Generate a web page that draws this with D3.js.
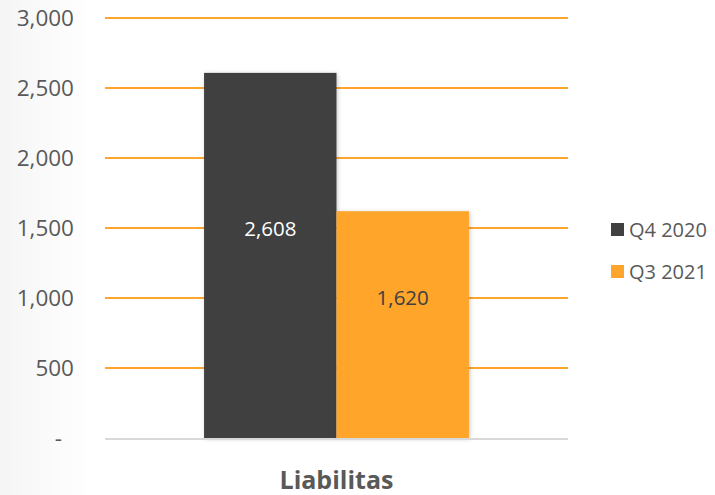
<!DOCTYPE html>
<html>
<head>
<meta charset="utf-8">
<script src="https://cdn.jsdelivr.net/npm/d3@7"></script>
<style>
  html, body { margin: 0; padding: 0; background: #ffffff; }
  svg { display: block; }
  text { font-family: "Open Sans", "Noto Sans", sans-serif; }
</style>
</head>
<body>
<svg id="chart" width="715" height="495"></svg>
<script>
// Chart data
const categories = ["Liabilitas"];
const seriesNames = ["Q4 2020", "Q3 2021"];
const seriesValues = [2608, 1620];
const seriesColors = ["#404040", "#FFA52C"];
const yTicks = [0, 500, 1000, 1500, 2000, 2500, 3000];

const svg = d3.select("#chart");
const W = 715, H = 495;

const defs = svg.append("defs");
const lg = defs.append("linearGradient").attr("id", "edge").attr("x1", 0).attr("x2", 1).attr("y1", 0).attr("y2", 0);
lg.append("stop").attr("offset", "0%").attr("stop-color", "#f5f5f5");
lg.append("stop").attr("offset", "60%").attr("stop-color", "#fbfbfb");
lg.append("stop").attr("offset", "100%").attr("stop-color", "#ffffff");
const f = defs.append("filter").attr("id", "shadow").attr("x", "-20%").attr("y", "-20%").attr("width", "140%").attr("height", "140%");
f.append("feDropShadow").attr("dx", 1).attr("dy", 1).attr("stdDeviation", 2).attr("flood-color", "#000").attr("flood-opacity", 0.22);

// Faint shading along the left edge
svg.append("rect").attr("x", 0).attr("y", 0).attr("width", 90).attr("height", H).attr("fill", "url(#edge)");

const plot = { left: 105, right: 568, top: 18, bottom: 438 };

const y = d3.scaleLinear().domain([0, 3000]).range([plot.bottom, plot.top]);
const x0 = d3.scaleBand().domain(categories).range([plot.left, plot.right]).paddingInner(0).paddingOuter(0.374);
const x1 = d3.scaleBand().domain(seriesNames).range([0, x0.bandwidth()]).padding(0);

// Gridlines
svg.append("g").selectAll("line").data(yTicks.filter(d => d > 0)).join("line")
  .attr("x1", plot.left).attr("x2", plot.right)
  .attr("y1", d => y(d)).attr("y2", d => y(d))
  .attr("stroke", "#FFA52C").attr("stroke-width", 2);

// Y axis labels
const fmt = d3.format(",");
svg.append("g").selectAll("text").data(yTicks).join("text")
  .attr("x", d => d === 0 ? 62 : 74)
  .attr("y", d => y(d))
  .attr("dy", "0.36em")
  .attr("text-anchor", "end")
  .attr("font-size", 22.5)
  .attr("fill", "#595959")
  .text(d => d === 0 ? "-" : fmt(d));

// Bars and value labels
categories.forEach(cat => {
  svg.append("g").selectAll("rect").data(seriesNames).join("rect")
    .attr("x", s => x0(cat) + x1(s))
    .attr("width", x1.bandwidth())
    .attr("y", (s, i) => y(seriesValues[i]))
    .attr("height", (s, i) => y(0) - y(seriesValues[i]))
    .attr("fill", (s, i) => seriesColors[i])
    .attr("filter", "url(#shadow)");

  svg.append("g").selectAll("text").data(seriesNames).join("text")
    .attr("x", s => x0(cat) + x1(s) + x1.bandwidth() / 2)
    .attr("y", (s, i) => (y(seriesValues[i]) + y(0)) / 2 - 27)
    .attr("dy", "0.36em")
    .attr("text-anchor", "middle")
    .attr("font-size", 20.5)
    .attr("fill", (s, i) => i === 0 ? "#ffffff" : "#404040")
    .text((s, i) => fmt(seriesValues[i]));
});

// Baseline
svg.append("line")
  .attr("x1", plot.left).attr("x2", plot.right)
  .attr("y1", y(0) + 1).attr("y2", y(0) + 1)
  .attr("stroke", "#D9D9D9").attr("stroke-width", 2);

// Category label
svg.append("text")
  .attr("x", x0(categories[0]) + x0.bandwidth() / 2)
  .attr("y", 480)
  .attr("dy", "0.36em")
  .attr("text-anchor", "middle")
  .attr("font-size", 25)
  .attr("font-weight", "bold")
  .attr("fill", "#595959")
  .text(categories[0]);

// Legend
const legend = svg.append("g");
seriesNames.forEach((s, i) => {
  const ly = 230 + i * 42;
  legend.append("rect").attr("x", 611).attr("y", ly - 7).attr("width", 13).attr("height", 13).attr("fill", seriesColors[i]);
  legend.append("text").attr("x", 629).attr("y", ly).attr("dy", "0.36em")
    .attr("font-size", 20).attr("fill", "#595959").text(s);
});
</script>
</body>
</html>
